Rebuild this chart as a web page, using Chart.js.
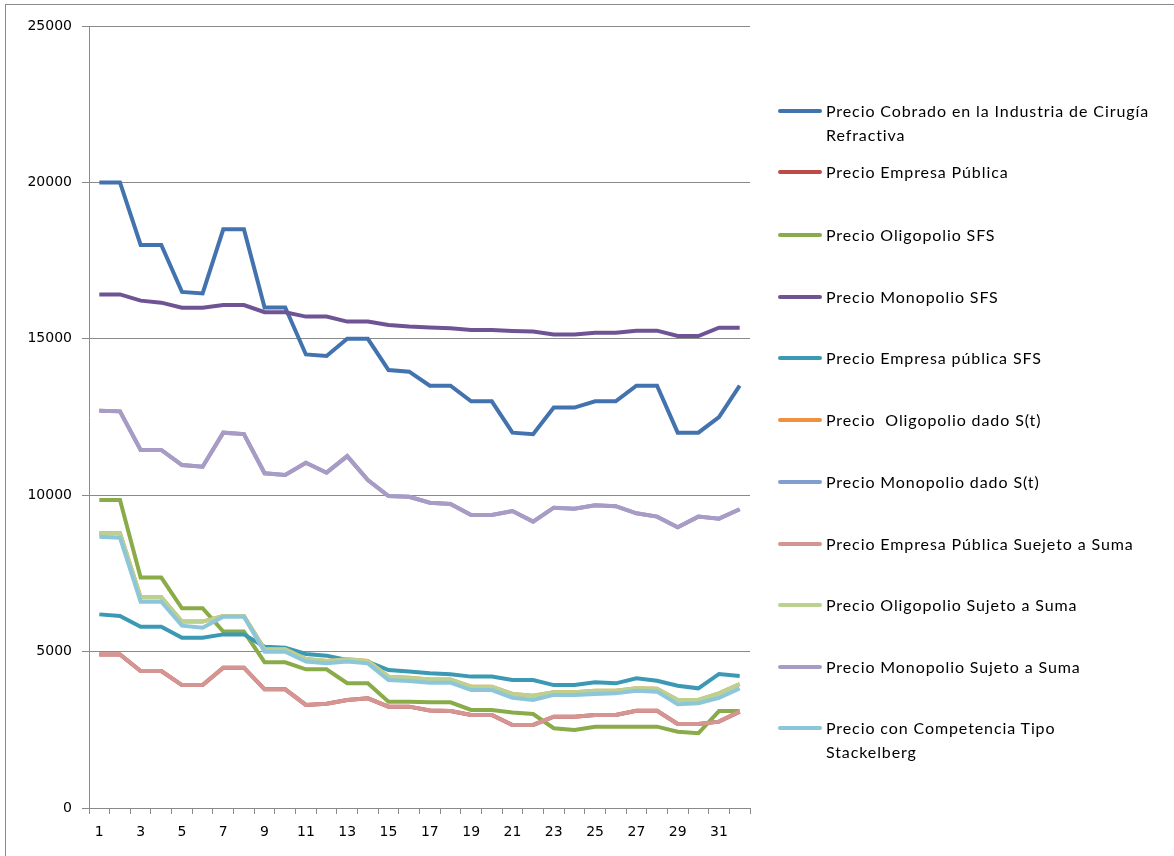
<!DOCTYPE html>
<html>
<head>
<meta charset="utf-8">
<script src="https://cdn.jsdelivr.net/npm/chart.js@4.4.1/dist/chart.umd.min.js"></script>
<style>
  html, body { margin: 0; padding: 0; background: #fff; }
  #wrap { position: relative; width: 1174px; height: 856px; overflow: hidden; }
  #frame { position: absolute; left: 5px; top: 4px; width: 1300px; height: 1000px;
           border-left: 1px solid #8a8a8a; border-top: 1px solid #8a8a8a; box-sizing: border-box; }
  canvas { position: absolute; left: 0; top: 0; }
  #legend { position: absolute; left: 0; top: 0; width: 1174px; height: 856px; pointer-events: none; }
  .item { position: absolute; left: 778px; font-family: Lato, "Open Sans", sans-serif; font-size: 16px;
          letter-spacing: 0.9px; line-height: 24px; color: #000; white-space: pre; }
  .swatch { position: absolute; left: 0; top: 10px; width: 44px; height: 4px; border-radius: 2px; }
  .txt { position: absolute; left: 48px; top: 0; }
</style>
</head>
<body>
<div id="wrap">
  <div id="frame"></div>
  <canvas id="c" width="1174" height="856"></canvas>
  <div id="legend"></div>
</div>
<script>
const categories = ["1","2","3","4","5","6","7","8","9","10","11","12","13","14","15","16",
                    "17","18","19","20","21","22","23","24","25","26","27","28","29","30","31","32"];

const yTicks = [0, 5000, 10000, 15000, 20000, 25000];

const cobrado = [20000,20000,18000,18000,16500,16450,18500,18500,16000,16000,14500,14450,15000,15000,14000,13950,
                 13500,13500,13000,13000,12000,11950,12800,12800,13000,13000,13500,13500,12000,12000,12500,13500];

const empresaPublica = [4910,4910,4380,4380,3930,3930,4485,4485,3795,3795,3295,3330,3450,3505,3240,3240,
                        3120,3100,2975,2975,2655,2655,2920,2920,2975,2975,3110,3110,2685,2685,2760,3080];

const oligopolioSFS = [9845,9845,7365,7365,6385,6385,5640,5640,4660,4660,4435,4435,3990,3990,3400,3400,
                       3380,3380,3135,3135,3050,3005,2550,2495,2600,2600,2600,2600,2440,2390,3100,3100];

const monopolioSFS = [16420,16420,16220,16155,15995,15995,16080,16080,15850,15850,15710,15710,15550,15550,15440,15390,
                      15360,15335,15280,15280,15250,15230,15140,15140,15195,15195,15260,15260,15090,15090,15355,15355];

const empresaPublicaSFS = [6190,6140,5795,5795,5445,5445,5550,5550,5155,5125,4925,4870,4730,4680,4410,4360,
                           4305,4275,4200,4200,4090,4090,3930,3930,4020,3985,4145,4070,3910,3825,4285,4220];

const oligopolioDadoS = [8780,8780,6735,6735,5960,5960,6140,6140,5075,5075,4765,4700,4755,4700,4200,4165,
                         4110,4110,3880,3880,3645,3590,3700,3700,3750,3750,3825,3810,3455,3455,3665,3965];

const monopolioDadoS = [12700,12680,11445,11445,10965,10910,12000,11955,10700,10645,11040,10720,11250,10485,9975,9950,
                        9760,9720,9365,9365,9495,9155,9600,9570,9680,9650,9420,9315,8975,9315,9250,9550];

const empresaPublicaSuma = [4910,4910,4380,4380,3930,3930,4485,4485,3795,3795,3295,3330,3450,3505,3240,3240,
                            3120,3100,2975,2975,2655,2655,2920,2920,2975,2975,3110,3110,2685,2685,2760,3080];

const oligopolioSuma = [8780,8780,6735,6735,5960,5960,6140,6140,5075,5075,4765,4700,4755,4700,4200,4165,
                        4110,4110,3880,3880,3645,3590,3700,3700,3750,3750,3825,3810,3455,3455,3665,3965];

const monopolioSuma = [12700,12680,11445,11445,10965,10910,12000,11955,10700,10645,11040,10720,11250,10485,9975,9950,
                       9760,9720,9365,9365,9495,9155,9600,9570,9680,9650,9420,9315,8975,9315,9250,9550];

const stackelberg = [8675,8640,6595,6595,5830,5765,6115,6115,4995,4995,4680,4625,4680,4625,4090,4060,
                     4005,4005,3770,3770,3525,3455,3615,3615,3645,3665,3750,3720,3315,3350,3525,3825];

const seriesLabels = [
  ["Precio Cobrado en la Industria de Cirugía", "Refractiva"],
  ["Precio Empresa Pública"],
  ["Precio Oligopolio SFS"],
  ["Precio Monopolio SFS"],
  ["Precio Empresa pública SFS"],
  ["Precio  Oligopolio dado S(t)"],
  ["Precio Monopolio dado S(t)"],
  ["Precio Empresa Pública Suejeto a Suma"],
  ["Precio Oligopolio Sujeto a Suma"],
  ["Precio Monopolio Sujeto a Suma"],
  ["Precio con Competencia Tipo", "Stackelberg"]
];
const seriesData = [cobrado, empresaPublica, oligopolioSFS, monopolioSFS, empresaPublicaSFS,
                    oligopolioDadoS, monopolioDadoS, empresaPublicaSuma, oligopolioSuma, monopolioSuma, stackelberg];
const seriesColors = ["#4373AE", "#BE4B48", "#8AAB4A", "#6E5494", "#3C99B3", "#F0913E",
                      "#7F9ED2", "#D49593", "#BCD18F", "#A99BC4", "#8DC6D9"];

const datasets = seriesData.map((d, i) => ({
  label: seriesLabels[i].join(" "),
  data: d,
  borderColor: seriesColors[i],
  backgroundColor: seriesColors[i],
  borderWidth: 4,
  pointRadius: 0,
  pointHoverRadius: 0,
  tension: 0,
  fill: false,
  order: seriesData.length - i
}));

const gray = "#8a8a8a";
const tickFont = { family: "DejaVu Sans", size: 14 };

const chart = new Chart(document.getElementById("c"), {
  type: "line",
  data: { labels: categories, datasets },
  options: {
    responsive: false,
    animation: false,
    events: [],
    layout: { padding: { left: 0, top: 26, right: 424, bottom: 6 } },
    plugins: { legend: { display: false }, tooltip: { enabled: false } },
    scales: {
      x: {
        type: "category",
        offset: true,
        grid: { offset: true, drawOnChartArea: false, drawTicks: true, tickLength: 6, color: gray, lineWidth: 1 },
        border: { color: gray, width: 1 },
        ticks: {
          autoSkip: false, maxRotation: 0, minRotation: 0, padding: 10, color: "#000", font: tickFont,
          callback: function (v, i) { return i % 2 === 0 ? categories[i] : ""; }
        },
        afterFit: function (s) { s.height = 42; }
      },
      y: {
        min: 0, max: 25000,
        afterBuildTicks: function (s) { s.ticks = yTicks.map(v => ({ value: v })); },
        grid: { color: gray, lineWidth: 1, drawTicks: true, tickLength: 7 },
        border: { color: gray, width: 1 },
        ticks: { padding: 10, color: "#000", font: tickFont, callback: v => String(v) },
        afterFit: function (s) { s.width = 89; }
      }
    }
  }
});

// HTML legend built from the chart's datasets
const legendTops = [111, 172, 235, 297, 358, 420, 482, 544, 605, 667, 728];
const legendEl = document.getElementById("legend");
chart.data.datasets.forEach((ds, i) => {
  const item = document.createElement("div");
  item.className = "item";
  item.style.top = (legendTops[i] - 12) + "px";
  const sw = document.createElement("div");
  sw.className = "swatch";
  sw.style.background = ds.borderColor;
  const tx = document.createElement("div");
  tx.className = "txt";
  seriesLabels[i].forEach((line, k) => {
    if (k > 0) tx.appendChild(document.createElement("br"));
    tx.appendChild(document.createTextNode(line));
  });
  item.appendChild(sw);
  item.appendChild(tx);
  legendEl.appendChild(item);
});
</script>
</body>
</html>
